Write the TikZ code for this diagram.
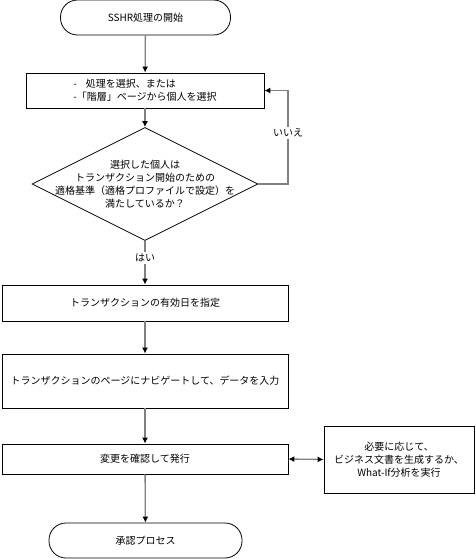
\documentclass[tikz,border=0pt]{standalone}
\usepackage{fontspec}
\setmainfont{Noto Sans CJK JP}
\usetikzlibrary{arrows.meta,shapes.geometric}
\begin{document}
\begin{tikzpicture}[x=1pt,y=-1pt,
  every node/.style={font=\fontsize{10}{13}\selectfont, text=black},
  term/.style={draw=black, line width=0.8pt, rounded corners=17pt, inner sep=0pt, align=center},
  proc/.style={draw=black, line width=0.8pt, inner sep=0pt, align=center},
  dia/.style={draw=black, line width=0.8pt, diamond, inner sep=0pt, minimum width=226pt, minimum height=113pt},
  conn/.style={draw=black!50, line width=1.3pt, -{Latex[length=6pt,width=6pt,color=black]}},
  lbl/.style={fill=white, inner sep=1.5pt}
]
\useasboundingbox (0,0) rectangle (476,559);
\node[term, minimum width=170pt, minimum height=35pt] (start) at (145.5,17.5) {SSHR処理の開始};
\node[proc, minimum width=238pt, minimum height=35pt, align=left] (b1) at (145,90.5)
  {-\hspace{9pt}処理を選択、または\\-「階層」ページから個人を選択};
\node[dia] (d) at (145,184) {};
\node[align=center] (dt) at (d.center) {選択した個人は\\トランザクション開始のための\\適格基準（適格プロファイルで設定）を\\満たしているか？};
\node[proc, minimum width=286pt, minimum height=36pt] (b2) at (145,303) {トランザクションの有効日を指定};
\node[proc, minimum width=286pt, minimum height=54pt] (b3) at (145,381) {トランザクションのページにナビゲートして、データを入力};
\node[proc, minimum width=286pt, minimum height=30pt] (b4) at (145,459) {変更を確認して発行};
\node[term, minimum width=193pt, minimum height=35pt] (end) at (145.5,540.5) {承認プロセス};
\node[proc, minimum width=150pt, minimum height=67pt] (side) at (399,459.5) {必要に応じて、\\ビジネス文書を生成するか、\\What-If分析を実行};
\coordinate (fb) at (288,184);
\draw[conn] (start) -- (b1);
\draw[conn] (b1) -- (d.north);
\draw[conn] (d.east) -- (fb) |- (b1.east);
\draw[conn] (d.south) -- (b2.north);
\draw[conn] (b2) -- (b3);
\draw[conn] (b3) -- (b4);
\draw[conn] (b4) -- (end);
\draw[conn, {Latex[length=6pt,width=6pt,color=black]}-{Latex[length=6pt,width=6pt,color=black]}] (b4.east) -- (side.west);
\node[lbl] (no) at (288,133) {いいえ};
\node[lbl] (yes) at (145,258) {はい};
\end{tikzpicture}
\end{document}
